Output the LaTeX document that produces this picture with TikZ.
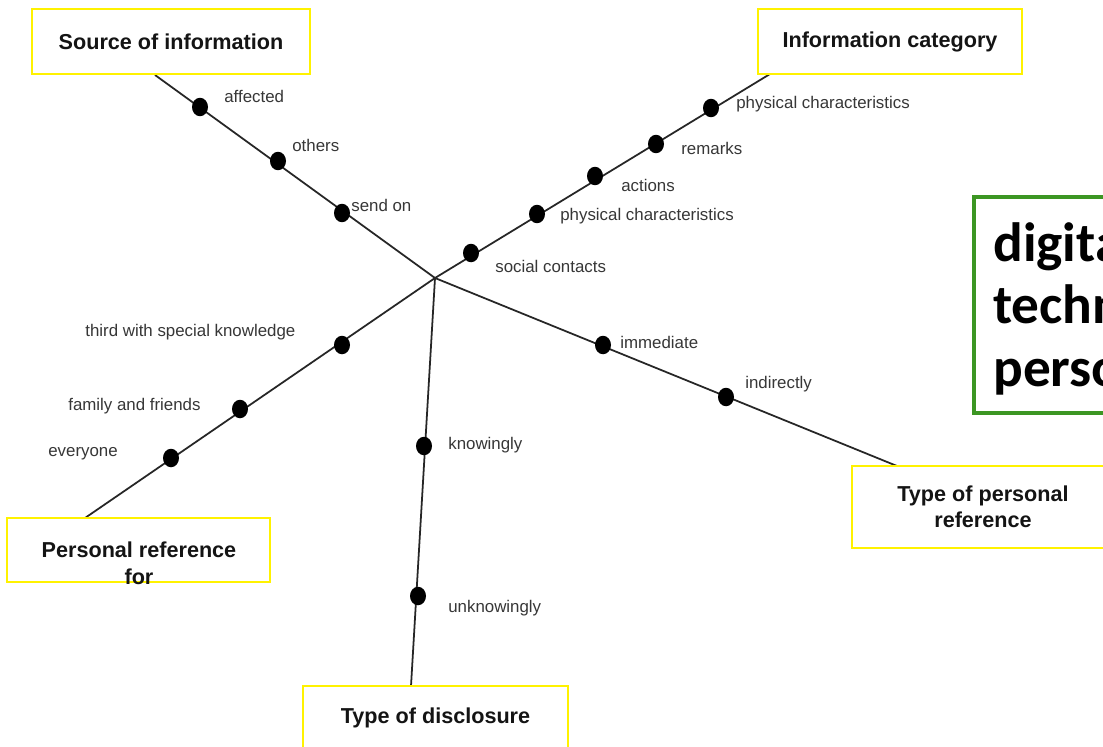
\documentclass[tikz,border=0pt]{standalone}
\usepackage{fontspec}
\setmainfont{Liberation Sans}
\newfontfamily\calib{Carlito}
\usetikzlibrary{shapes.geometric}
\definecolor{boxyellow}{RGB}{255,242,0}
\definecolor{boxgreen}{RGB}{60,150,35}
\definecolor{labgray}{RGB}{55,55,55}
\definecolor{titleblack}{RGB}{20,20,20}
\begin{document}
\begin{tikzpicture}[x=0.02cm,y=-0.02cm,
  catbox/.style={draw=boxyellow, line width=1.2pt, fill=white, inner sep=0pt},
  cattext/.style={font=\fontsize{12.3}{14.7}\selectfont\bfseries, text=titleblack, align=center, inner sep=0pt},
  axisline/.style={line width=1pt, black!85},
  dotnode/.style={ellipse, fill=black, inner sep=0pt, minimum width=0.32cm, minimum height=0.37cm},
  lab/.style={anchor=west, inner sep=0pt, font=\fontsize{9.6}{11}\selectfont, text=labgray}]
\clip (0,0) rectangle (1103,747);
\fill[white] (0,0) rectangle (1103,747);

% hub and line ends
\coordinate (hub) at (435,278);
\coordinate (s0) at (155,75);
\coordinate (c0) at (770,74);
\coordinate (p0) at (85,518);
\coordinate (t0) at (411,686);
\coordinate (r0) at (897,466);

% axes
\draw[axisline] (hub) -- (s0);
\draw[axisline] (hub) -- (c0);
\draw[axisline] (hub) -- (p0);
\draw[axisline] (hub) -- (t0);
\draw[axisline] (hub) -- (r0);

% category boxes
\node[catbox, cattext, minimum width=5.56cm, minimum height=1.3cm] (src) at (171,41.5) {Source of information};
\node[catbox, cattext, minimum width=5.28cm, minimum height=1.3cm] (cat) at (890,41.5) {Information category};
\node[catbox, minimum width=5.26cm, minimum height=1.28cm] (prf) at (138.5,550) {};
\node[cattext, font=\fontsize{12.3}{15.3}\selectfont\bfseries] (prft) at (139,563) {Personal reference\\for};
\node[catbox, cattext, minimum width=5.3cm, minimum height=1.28cm] (dis) at (435.5,718) {Type of disclosure};
\node[catbox, cattext, minimum width=5.24cm, minimum height=1.64cm] (tpr) at (983,507) {Type of personal\\reference};

% green box
\node[draw=boxgreen, line width=2.2pt, fill=white, anchor=north west, minimum width=6cm, minimum height=4.32cm, inner sep=0pt] (green) at (972,195) {};
\node[anchor=north west, inner sep=0pt, align=left, font=\calib\fontsize{31.5}{35.7}\selectfont\bfseries] (greentext) at (993,222) {digita\\techn\\perso};

% dots: source of information
\node[dotnode] (s1) at (200,107) {};
\node[dotnode] (s2) at (278,161) {};
\node[dotnode] (s3) at (342,213) {};
% dots: information category
\node[dotnode] (c1) at (711,108) {};
\node[dotnode] (c2) at (656,144) {};
\node[dotnode] (c3) at (595,176) {};
\node[dotnode] (c4) at (537,214) {};
\node[dotnode] (c5) at (471,253) {};
% dots: personal reference for
\node[dotnode] (p1) at (342,345) {};
\node[dotnode] (p2) at (240,409) {};
\node[dotnode] (p3) at (171,458) {};
% dots: type of disclosure
\node[dotnode] (t1) at (424,446) {};
\node[dotnode] (t2) at (418,596) {};
% dots: type of personal reference
\node[dotnode] (r1) at (603,345) {};
\node[dotnode] (r2) at (726,397) {};

% labels
\node[lab] (ls1) at (224,96) {affected};
\node[lab] (ls2) at (292,145) {others};
\node[lab] (ls3) at (351,205) {send on};
\node[lab] (lc1) at (736,104) {physical characteristics};
\node[lab] (lc2) at (681,148) {remarks};
\node[lab] (lc3) at (621,185) {actions};
\node[lab] (lc4) at (560,216) {physical characteristics};
\node[lab] (lc5) at (495,266) {social contacts};
\node[lab] (lp1) at (85,332) {third with special knowledge};
\node[lab] (lp2) at (68,406) {family and friends};
\node[lab] (lp3) at (48,454) {everyone};
\node[lab] (lt1) at (448,445) {knowingly};
\node[lab] (lt2) at (448,608) {unknowingly};
\node[lab] (lr1) at (620,342) {immediate};
\node[lab] (lr2) at (745,384) {indirectly};
\end{tikzpicture}
\end{document}
